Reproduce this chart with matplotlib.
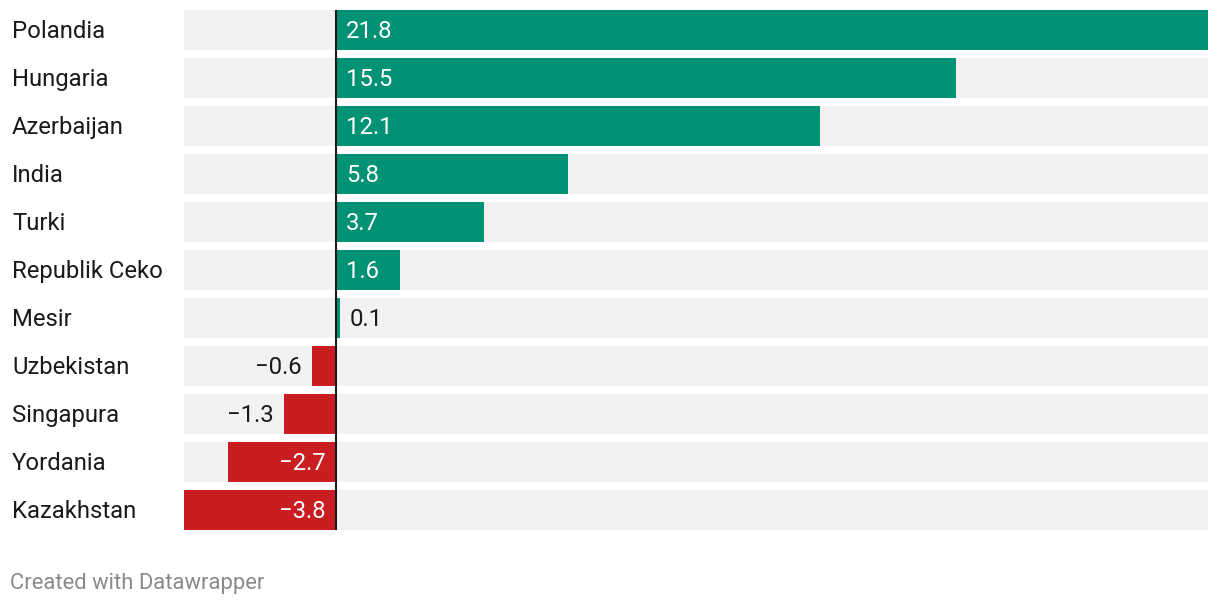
import matplotlib.pyplot as plt

plt.rcParams["font.family"] = ["Roboto", "DejaVu Sans"]

countries = ["Polandia", "Hungaria", "Azerbaijan", "India", "Turki", "Republik Ceko",
             "Mesir", "Uzbekistan", "Singapura", "Yordania", "Kazakhstan"]
values = [21.8, 15.5, 12.1, 5.8, 3.7, 1.6, 0.1, -0.6, -1.3, -2.7, -3.8]

GREEN = "#019175"
RED = "#c91d22"
BG = "#f2f2f2"
FS = 17.2

W, H = 1220, 606
fig = plt.figure(figsize=(W / 100, H / 100), dpi=100)
ax = fig.add_axes([184 / W, 1 - 530 / H, (1208 - 184) / W, 520 / H])

xmin, xmax = min(values), max(values)
n = len(countries)
ys = list(range(n))
ax.barh(ys, [xmax - xmin] * n, left=xmin, height=40 / 48, color=BG, zorder=1)
ax.barh(ys, values, height=40 / 48,
        color=[GREEN if v >= 0 else RED for v in values], zorder=2)
ax.axvline(0, color="#1a1a1a", lw=1.5, zorder=3)

ax.set_xlim(xmin, xmax)
ax.set_ylim(n - 1 + 0.4167, -0.4167)
ax.axis("off")

for y, v, name in zip(ys, values, countries):
    ax.annotate(name, xy=(0, y), xycoords=("figure fraction", "data"),
                xytext=(12, -1.5), textcoords="offset pixels",
                fontsize=FS, color="#1a1a1a", va="center", ha="left")
    label = f"{v:.1f}".replace("-", "\u2212")
    width_px = abs(v) * (1208 - 184) / (xmax - xmin)
    inside = width_px > 60
    sign = 1 if v >= 0 else -1
    anchor = 0 if inside else v
    ax.annotate(label, (anchor, y), xytext=(sign * 10, -1.5), textcoords="offset pixels",
                color="white" if inside else "#1a1a1a", fontsize=FS, va="center",
                ha="left" if v >= 0 else "right", zorder=4)

fig.text(10 / W, 1 - 584 / H, "Created with Datawrapper", fontsize=15.8,
         color="#8a8a8a", va="center", ha="left")

fig.savefig("out.png", dpi=100)
